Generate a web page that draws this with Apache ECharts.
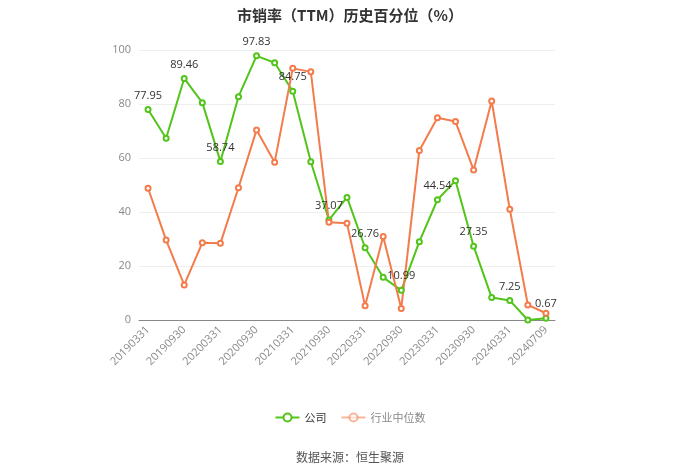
<!DOCTYPE html>
<html><head><meta charset="utf-8">
<script src="https://cdn.jsdelivr.net/npm/echarts@6/dist/echarts.min.js"></script>
<style>html,body{margin:0;padding:0;background:#fff}#c{width:700px;height:474px}</style>
</head><body><div id="c"></div>
<script>
const categories = ['20190331','20190630','20190930','20191231','20200331','20200630','20200930','20201231','20210331','20210630','20210930','20211231','20220331','20220630','20220930','20221231','20230331','20230630','20230930','20231231','20240331','20240630','20240709'];
const companyValues = [77.95,67.3,89.46,80.5,58.74,82.7,97.83,95.3,84.75,58.6,37.07,45.4,26.76,15.8,10.99,29.0,44.54,51.6,27.35,8.3,7.25,0.0,0.67];
const industryValues = [48.8,29.6,13.0,28.6,28.4,49.0,70.4,58.4,93.2,91.9,36.2,35.8,5.3,30.9,4.3,62.8,74.9,73.5,55.6,81.1,41.0,5.6,2.5];
const yTicks = [0,20,40,60,80,100];
const titleText = '市销率（TTM）历史百分位（%）';
const sourceText = '数据来源：恒生聚源';
const green = '#52c41a', orange = '#f47b4b';
const chart = echarts.init(document.getElementById('c'));
chart.setOption({
  animation:false,
  title:{text:titleText,left:'center',top:3,textStyle:{fontSize:15,fontWeight:'bold',color:'#333',fontFamily:'Noto Sans CJK SC'}},
  graphic:[{type:'text',left:'center',top:451,style:{text:sourceText,fill:'#555',fontSize:12,fontFamily:'Noto Sans CJK SC'}}],
  legend:{bottom:46,itemGap:14,itemWidth:24,itemHeight:10,textStyle:{fontSize:11,fontFamily:'Noto Sans CJK SC',color:'#333'},
    data:[{name:'公司'},{name:'行业中位数',itemStyle:{opacity:0.55},lineStyle:{opacity:0.55},textStyle:{color:'#888'}}]},
  grid:{left:139,right:145,top:50,bottom:154},
  xAxis:{type:'category',data:categories,boundaryGap:true,
    axisLine:{lineStyle:{color:'#888'}},axisTick:{alignWithLabel:true,interval:1,lineStyle:{color:'#888'}},
    axisLabel:{interval:1,rotate:45,color:'#888',fontSize:11,fontFamily:'Open Sans'}},
  yAxis:{type:'value',min:yTicks[0],max:yTicks[yTicks.length-1],interval:20,
    axisLine:{show:false},axisTick:{show:false},axisLabel:{color:'#888',fontSize:11,fontFamily:'Open Sans'},
    splitLine:{lineStyle:{color:'#eee'}}},
  series:[
    {name:'公司',type:'line',data:companyValues,symbol:'emptyCircle',symbolSize:5,showAllSymbol:true,
      itemStyle:{color:green},lineStyle:{color:green,width:2},
      label:{show:true,position:'top',color:'#333',fontSize:11,fontFamily:'Open Sans',
        formatter:p=>p.dataIndex%2===0?p.value.toFixed(2):''}},
    {name:'行业中位数',type:'line',data:industryValues,symbol:'emptyCircle',symbolSize:5,showAllSymbol:true,
      itemStyle:{color:orange},lineStyle:{color:orange,width:2}}
  ]
});
</script></body></html>
